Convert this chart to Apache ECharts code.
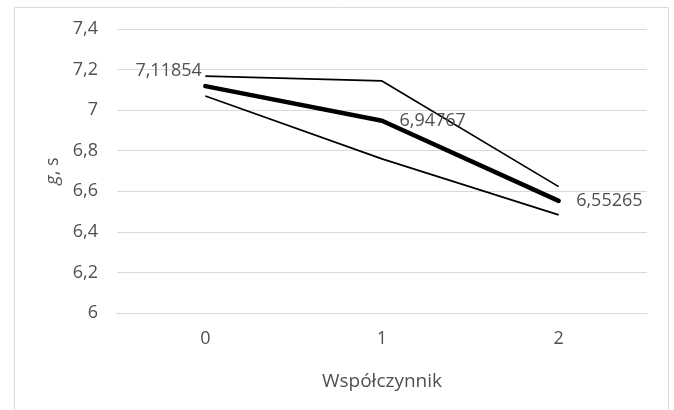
<!DOCTYPE html>
<html>
<head>
<meta charset="utf-8">
<script src="https://cdn.jsdelivr.net/npm/echarts@6/dist/echarts.min.js"></script>
<style>
html,body{margin:0;padding:0;background:#fff;}
#chart{width:674px;height:410px;}
</style>
</head>
<body>
<div id="chart"></div>
<script>
const categories = ['0', '1', '2'];
const upperValues = [7.168, 7.144, 6.623];
const meanValues = [7.11854, 6.94767, 6.55265];
const lowerValues = [7.07, 6.76, 6.484];
const yTicks = [6, 6.2, 6.4, 6.6, 6.8, 7, 7.2, 7.4];

const FONT = '"Open Sans", "Liberation Sans", sans-serif';
const TXT = '#505050';
const fmt = v => String(v).replace('.', ',');

const chart = echarts.init(document.getElementById('chart'));
chart.setOption({
  animation: false,
  backgroundColor: '#fff',
  graphic: [{
    type: 'rect', left: 12, top: 5, silent: true,
    shape: { width: 654, height: 420 },
    style: { fill: 'none', stroke: '#d9d9d9', lineWidth: 1 }
  }],
  grid: { left: 117, right: 27, top: 29, bottom: 97 },
  xAxis: {
    type: 'category', data: categories, boundaryGap: true,
    name: 'Współczynnik', nameLocation: 'middle', nameGap: 59,
    nameTextStyle: { color: TXT, fontSize: 19, fontFamily: FONT },
    axisLine: { show: true, lineStyle: { color: '#d9d9d9' } },
    axisTick: { show: false },
    axisLabel: { color: TXT, fontSize: 18, fontFamily: FONT, margin: 17 }
  },
  yAxis: {
    type: 'value', min: yTicks[0], max: yTicks[yTicks.length - 1], interval: 0.2,
    name: '{i|g}, s', nameLocation: 'middle', nameGap: 55,
    nameTextStyle: {
      color: TXT, fontSize: 18, fontFamily: FONT,
      rich: { i: { fontStyle: 'italic', fontSize: 18, fontFamily: FONT, color: TXT } }
    },
    axisLine: { show: false }, axisTick: { show: false },
    splitLine: { lineStyle: { color: '#d9d9d9' } },
    axisLabel: { color: TXT, fontSize: 18, fontFamily: FONT, margin: 19,
      formatter: v => fmt(Math.round(v * 10) / 10) }
  },
  series: [
    { type: 'line', data: upperValues, symbol: 'none', lineStyle: { color: '#000', width: 1.7 }, z: 2 },
    { type: 'line', data: lowerValues, symbol: 'none', lineStyle: { color: '#000', width: 1.7 }, z: 2 },
    {
      type: 'line', symbol: 'circle', symbolSize: 1, showSymbol: true, z: 3,
      itemStyle: { color: '#000' },
      lineStyle: { color: '#000', width: 4.5, cap: 'round', join: 'round' },
      data: meanValues.map((v, i) => ({
        value: v,
        label: i === 0
          ? { show: true, position: 'left', distance: 3, offset: [0, -15] }
          : { show: true, position: 'right', distance: 17 }
      })),
      label: { show: true, color: TXT, fontSize: 18, fontFamily: FONT, formatter: p => fmt(p.value) }
    }
  ]
});
</script>
</body>
</html>
